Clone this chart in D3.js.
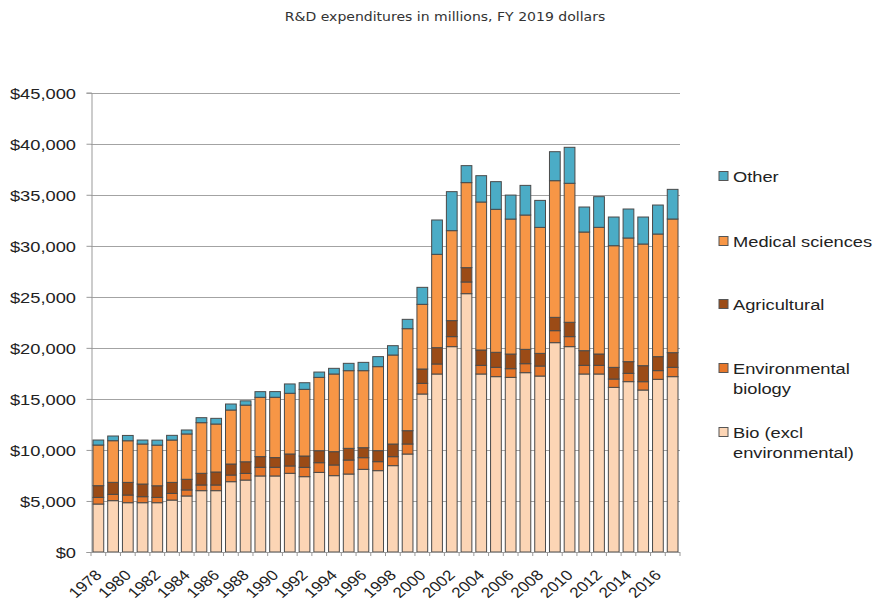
<!DOCTYPE html>
<html>
<head>
<meta charset="utf-8">
<script src="https://cdn.jsdelivr.net/npm/d3@7"></script>
<style>
  body { margin: 0; background: #fff; }
  svg { display: block; }
</style>
</head>
<body>
<div id="chart"></div>
<script>
var width = 875,
    height = 602;

// values in millions, FY 2019 dollars
var years = d3.range(1978, 2018);
var bio = [4700, 5030, 4830, 4830, 4830, 5090, 5490, 6010, 6010, 6890,
           7050, 7450, 7450, 7710, 7380, 7800, 7480, 7640, 8100, 7970,
           8460, 9600, 15480, 17440, 20120, 25310, 17440, 17180, 17110, 17570,
           17240, 20510, 20120, 17440, 17440, 16130, 16690, 15870, 16920, 17180];
var environmental = [650, 620, 750, 590, 520, 650, 590, 555, 555, 650,
                     650, 850, 850, 720, 915, 950, 1045, 1370, 1140, 880,
                     880, 980, 1045, 980, 980, 1145, 850, 915, 850, 880,
                     980, 1175, 980, 850, 850, 815, 815, 815, 850, 915];
var agricultural = [1150, 1175, 1240, 1240, 1140, 1080, 1045, 1145, 1275, 1080,
                    1140, 1045, 950, 1175, 1110, 1175, 1305, 1145, 980, 1080,
                    1240, 1305, 1405, 1600, 1570, 1405, 1500, 1470, 1435, 1405,
                    1240, 1305, 1405, 1435, 1110, 1145, 1145, 1570, 1370, 1435];
var medical = [3980, 4080, 4080, 3920, 3980, 4150, 4440, 4960, 4700, 5290,
               5550, 5810, 5910, 5945, 6530, 7185, 7610, 7610, 7545, 8230,
               8720, 9995, 6335, 9145, 8815, 8330, 14500, 14010, 13225, 13160,
               12345, 13390, 13620, 11625, 12410, 11920, 12115, 11920, 12015, 13095];
var other = [490, 460, 520, 390, 490, 460, 390, 490, 555, 590,
             420, 555, 555, 915, 650, 520, 555, 720, 815, 980,
             915, 915, 1665, 3365, 3820, 1665, 2580, 2710, 2350, 2905,
             2645, 2840, 3525, 2450, 3005, 2810, 2840, 2645, 2840, 2905];

var seriesKeys = ["bio", "environmental", "agricultural", "medical", "other"];
var seriesNames = ["Bio (excl\nenvironmental)", "Environmental\nbiology", "Agricultural", "Medical sciences", "Other"];
var seriesColors = ["#fcd5b5", "#e7772a", "#9b4b16", "#f79646", "#4bacc6"];
var yTicks = d3.range(0, 45001, 5000);

var rows = years.map(function(y, i) {
    return {
        year: y,
        bio: bio[i],
        environmental: environmental[i],
        agricultural: agricultural[i],
        medical: medical[i],
        other: other[i]
    };
});

var plotLeft = 91, plotRight = 680, plotTop = 92.7, plotBottom = 552;
// the source picture is a little wider than tall, so text is stretched sideways
var stretch = 1.18;

var svg = d3.select("#chart").append("svg")
    .attr("width", width)
    .attr("height", height);

svg.append("rect").attr("width", width).attr("height", height).attr("fill", "#fff");

var x = d3.scaleBand()
    .domain(years)
    .range([plotLeft, plotRight])
    .paddingInner(0.27)
    .paddingOuter(0.135);

var y = d3.scaleLinear()
    .domain([0, 45000])
    .range([plotBottom, plotTop]);

// title
svg.append("text")
    .attr("transform", "translate(445,21) scale(1.08,1)")
    .attr("text-anchor", "middle")
    .attr("font-family", "DejaVu Sans, sans-serif")
    .attr("font-size", 13)
    .attr("fill", "#333")
    .text("R&D expenditures in millions, FY 2019 dollars");

// gridlines
svg.append("g")
    .selectAll("line")
    .data(yTicks.slice(1))
    .enter().append("line")
    .attr("x1", plotLeft)
    .attr("x2", plotRight)
    .attr("y1", function(d) { return Math.round(y(d)) + 0.5; })
    .attr("y2", function(d) { return Math.round(y(d)) + 0.5; })
    .attr("stroke", "#a3a3a3")
    .attr("stroke-width", 1.2);

// y axis
var yAxis = svg.append("g")
    .attr("transform", "translate(" + (plotLeft + 0.5) + ",0)")
    .call(d3.axisLeft(y).tickValues(yTicks).tickSize(5).tickFormat(function(d) { return "$" + d3.format(",")(d); }));
yAxis.select(".domain").attr("stroke", "#999");
yAxis.selectAll(".tick line").attr("stroke", "#999");
yAxis.selectAll(".tick text")
    .attr("x", null)
    .attr("dy", null)
    .attr("fill", "#222")
    .attr("font-family", "Liberation Sans, Arial, sans-serif")
    .attr("font-size", 15.5)
    .attr("text-anchor", "end")
    .attr("transform", "translate(-15.5,5.5) scale(" + stretch + ",1)");

// bars
var stack = d3.stack().keys(seriesKeys);
var layers = stack(rows);

svg.append("g")
    .selectAll("g")
    .data(layers)
    .enter().append("g")
    .attr("fill", function(d, i) { return seriesColors[i]; })
    .selectAll("rect")
    .data(function(d) { return d; })
    .enter().append("rect")
    .attr("x", function(d) { return x(d.data.year); })
    .attr("y", function(d) { return y(d[1]); })
    .attr("width", x.bandwidth())
    .attr("height", function(d) { return y(d[0]) - y(d[1]); })
    .attr("stroke", "#4a4a4a")
    .attr("stroke-width", 1);

// x axis
svg.append("line")
    .attr("x1", plotLeft).attr("x2", plotRight)
    .attr("y1", plotBottom + 0.5).attr("y2", plotBottom + 0.5)
    .attr("stroke", "#999");

var step = x.step();
svg.append("g")
    .selectAll("line")
    .data(years.concat([2018]))
    .enter().append("line")
    .attr("x1", function(d, i) { return plotLeft + i * step; })
    .attr("x2", function(d, i) { return plotLeft + i * step; })
    .attr("y1", plotBottom)
    .attr("y2", plotBottom + 4)
    .attr("stroke", "#999");

svg.append("g")
    .selectAll("text")
    .data(years.filter(function(d) { return d % 2 === 0; }))
    .enter().append("text")
    .attr("transform", function(d) {
        return "translate(" + (x(d) + x.bandwidth() / 2 + 4.3) + "," + (plotBottom + 24) + ") scale(" + stretch + ",1) rotate(-45)";
    })
    .attr("text-anchor", "end")
    .attr("font-family", "Liberation Sans, Arial, sans-serif")
    .attr("font-size", 14.5)
    .attr("fill", "#222")
    .text(function(d) { return d; });

// legend, top entry first
var legendY = [176, 241, 304, 368, 432];
var legendOrder = [4, 3, 2, 1, 0];
var legend = svg.append("g")
    .selectAll("g")
    .data(legendOrder)
    .enter().append("g")
    .attr("transform", function(d, i) { return "translate(719," + legendY[i] + ")"; });

legend.append("rect")
    .attr("x", 0)
    .attr("y", -4.5)
    .attr("width", 9)
    .attr("height", 9)
    .attr("fill", function(d) { return seriesColors[d]; })
    .attr("stroke", "#555")
    .attr("stroke-width", 1);

legend.append("text")
    .attr("transform", "translate(14,5.5) scale(" + stretch + ",1)")
    .attr("font-family", "Liberation Sans, Arial, sans-serif")
    .attr("font-size", 15.5)
    .attr("fill", "#222")
    .selectAll("tspan")
    .data(function(d) { return seriesNames[d].split("\n"); })
    .enter().append("tspan")
    .attr("x", 0)
    .attr("dy", function(d, i) { return i === 0 ? 0 : 20.5; })
    .text(function(d) { return d; });
</script>
</body>
</html>
